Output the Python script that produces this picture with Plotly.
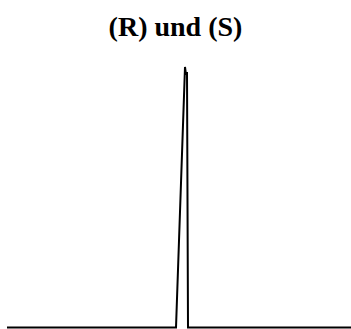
import plotly.graph_objects as go

# retention axis (arbitrary units) and detector signal
time = [0, 169, 178, 179, 180, 181, 344]
signal = [0, 0, 0.974, 0.945, 0.955, 0, 0]

fig = go.Figure()
fig.add_trace(go.Scatter(x=time, y=signal, mode="lines",
                         line=dict(color="black", width=2), hoverinfo="skip"))
fig.update_layout(
    width=351, height=329,
    margin=dict(l=7, r=0, t=60, b=0),
    paper_bgcolor="white", plot_bgcolor="white",
    showlegend=False,
    title=dict(text="<b>(R) und (S)</b>", x=0.5, xanchor="center",
               y=1 - 26 / 329, yanchor="middle",
               font=dict(family="Liberation Serif", size=28, color="black")),
    xaxis=dict(range=[0, 344], visible=False, fixedrange=True),
    yaxis=dict(range=[-0.0056, 1], visible=False, fixedrange=True),
)
fig.write_html("out.html")
